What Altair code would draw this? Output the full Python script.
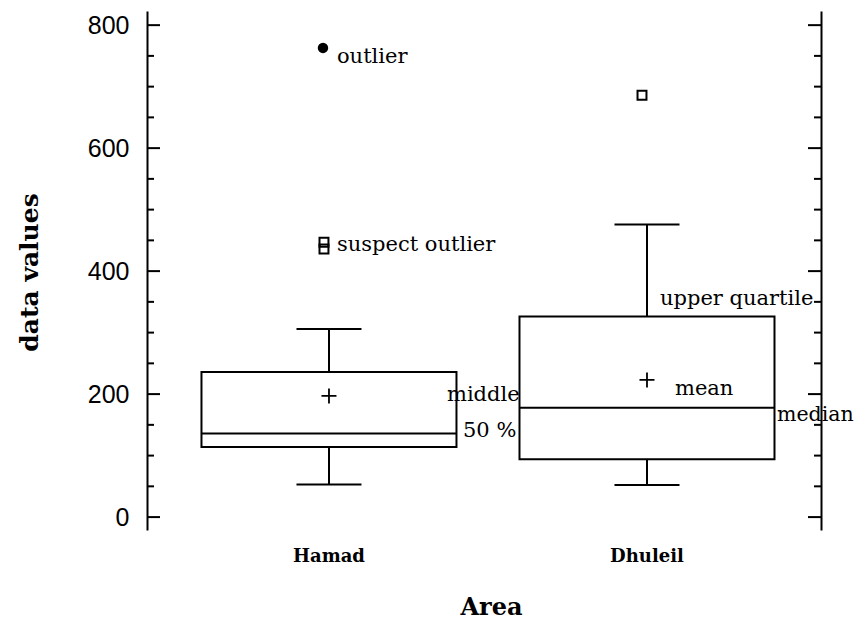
import altair as alt
import pandas as pd

# ---- data ----
AREAS = ["Hamad", "Dhuleil"]
Q1 = [114, 94]
Q3 = [236, 326]
MEDIAN = [136, 178]
MEAN = [197, 223]
WHISK_LO = [53, 52]
WHISK_HI = [306, 476]

OUT_AREA = ["Hamad", "Hamad", "Hamad", "Dhuleil"]
OUT_VALUE = [763, 447, 436, 686]
OUT_KIND = ["outlier", "suspect", "suspect", "suspect"]

MAJOR_TICKS = [0, 200, 400, 600, 800]
MINOR_TICKS = [50, 100, 150, 250, 300, 350, 450, 500, 550, 650, 700, 750]

SERIF = "DejaVu Serif"
SANS = "Liberation Sans"
W, H = 674, 519

box_df = pd.DataFrame({"area": AREAS, "q1": Q1, "q3": Q3, "med": MEDIAN,
                       "mean": MEAN, "lo": WHISK_LO, "hi": WHISK_HI})
out_df = pd.DataFrame({"area": OUT_AREA, "v": OUT_VALUE, "kind": OUT_KIND})
major_df = pd.DataFrame({"v": MAJOR_TICKS})
minor_df = pd.DataFrame({"v": MINOR_TICKS})

yscale = alt.Scale(domain=[-21, 823], nice=False, zero=False)
xscale = alt.Scale(type="band", domain=AREAS, paddingInner=0,
                   paddingOuter=0.0597, align=0.605)

x_axis = alt.Axis(title="Area", domain=False, ticks=False, tickSize=0,
                  labelFont=SERIF, labelFontSize=18, labelFontWeight="bold",
                  labelColor="black",
                  labelPadding=31, labelBaseline="alphabetic", labelAngle=0,
                  titleFont=SERIF, titleFontSize=24, titleFontWeight="bold",
                  titleColor="black", titleX=344, titleY=84,
                  titleAlign="center", titleBaseline="alphabetic", titleAngle=0)
X = alt.X("area:N", scale=xscale, axis=x_axis)

y_left = alt.Axis(title="data values", orient="left", values=MAJOR_TICKS,
                  ticks=False, tickSize=0, domain=True, domainColor="black",
                  domainWidth=2, grid=False, labelFont=SANS, labelFontSize=25,
                  labelColor="black", labelPadding=18,
                  titleFont=SERIF, titleFontSize=25, titleFontWeight="bold",
                  titleColor="black", titleX=-110, titleY=261,
                  titleAlign="center", titleBaseline="alphabetic", titleAngle=270)
y_right = alt.Axis(title="", orient="right", labels=False, ticks=False,
                   tickSize=0, domain=True, domainColor="black",
                   domainWidth=2, grid=False)


def Yn(field):
    return alt.Y(field, scale=yscale, axis=None)


lower_whisk = alt.Chart(box_df).mark_rule(color="black", strokeWidth=2).encode(
    x=X, y=Yn("lo:Q"), y2="q1:Q")
upper_whisk = alt.Chart(box_df).mark_rule(color="black", strokeWidth=2).encode(
    x=X, y=alt.Y("q3:Q", scale=yscale, axis=y_right), y2="hi:Q")
boxes = alt.Chart(box_df).mark_bar(size=255, fill="transparent", stroke="black",
                                   strokeWidth=2).encode(
    x=X, y=alt.Y("q1:Q", scale=yscale, axis=y_left), y2="q3:Q")
medians = alt.Chart(box_df).mark_tick(size=255, thickness=2, color="black",
                                      opacity=1, orient="horizontal").encode(
    x=X, y=Yn("med:Q"))
caps_hi = alt.Chart(box_df).mark_tick(size=65, thickness=2, color="black",
                                      opacity=1, orient="horizontal").encode(
    x=X, y=Yn("hi:Q"))
caps_lo = alt.Chart(box_df).mark_tick(size=65, thickness=2, color="black",
                                      opacity=1, orient="horizontal").encode(
    x=X, y=Yn("lo:Q"))
means = alt.Chart(box_df).mark_point(shape="M-1,0L1,0M0,-1L0,1", size=225,
                                     filled=False, color="black", strokeWidth=1.8,
                                     opacity=1).encode(x=X, y=Yn("mean:Q"))
far_out = alt.Chart(out_df).transform_filter(alt.datum.kind == "outlier").mark_point(
    shape="circle", size=110, filled=True, color="black", opacity=1, xOffset=-6
).encode(x=X, y=Yn("v:Q"))
suspect = alt.Chart(out_df).transform_filter(alt.datum.kind == "suspect").mark_point(
    shape="square", size=80, filled=False, color="black", strokeWidth=2,
    opacity=1, xOffset=-5
).encode(x=X, y=Yn("v:Q"))

ticks_l_major = alt.Chart(major_df).mark_rule(color="black", strokeWidth=2).encode(
    x=alt.value(0), x2=alt.value(13), y=Yn("v:Q"))
ticks_l_minor = alt.Chart(minor_df).mark_rule(color="black", strokeWidth=2).encode(
    x=alt.value(0), x2=alt.value(7), y=Yn("v:Q"))
ticks_r_major = alt.Chart(major_df).mark_rule(color="black", strokeWidth=2).encode(
    x=alt.value(W), x2=alt.value(W - 13), y=Yn("v:Q"))
ticks_r_minor = alt.Chart(minor_df).mark_rule(color="black", strokeWidth=2).encode(
    x=alt.value(W), x2=alt.value(W - 7), y=Yn("v:Q"))


def note(text, area, value, dx, dy, size=21):
    df = pd.DataFrame({"area": [area], "v": [value], "t": [text]})
    return alt.Chart(df).mark_text(align="left", baseline="alphabetic", dx=dx,
                                   dy=dy, font=SERIF, fontSize=size,
                                   color="black").encode(
        x=X, y=Yn("v:Q"), text="t:N")


notes = [
    note("outlier", AREAS[0], OUT_VALUE[0], 8, 15.5),
    note("suspect outlier", AREAS[0], (OUT_VALUE[1] + OUT_VALUE[2]) / 2, 8, 5),
    note("middle", AREAS[0], MEAN[0], 118, 5),
    note("50 %", AREAS[0], MEDIAN[0], 134, 4),
    note("upper quartile", AREAS[1], Q3[1], 13, -12),
    note("mean", AREAS[1], MEAN[1], 28, 15),
    note("median", AREAS[1], MEDIAN[1], 130, 13.5, 20.5),
]

chart = alt.layer(
    boxes, upper_whisk, lower_whisk, medians, caps_hi, caps_lo, means,
    far_out, suspect, ticks_l_major, ticks_l_minor, ticks_r_major,
    ticks_r_minor, *notes
).resolve_axis(y="independent").properties(
    width=W, height=H,
    autosize=alt.AutoSizeParams(type="none"),
    padding={"left": 139, "top": 3, "right": 33, "bottom": 91},
    background="white",
).configure_view(stroke="transparent")

chart.save("out.html", embed_options={"renderer": "svg", "actions": False})
